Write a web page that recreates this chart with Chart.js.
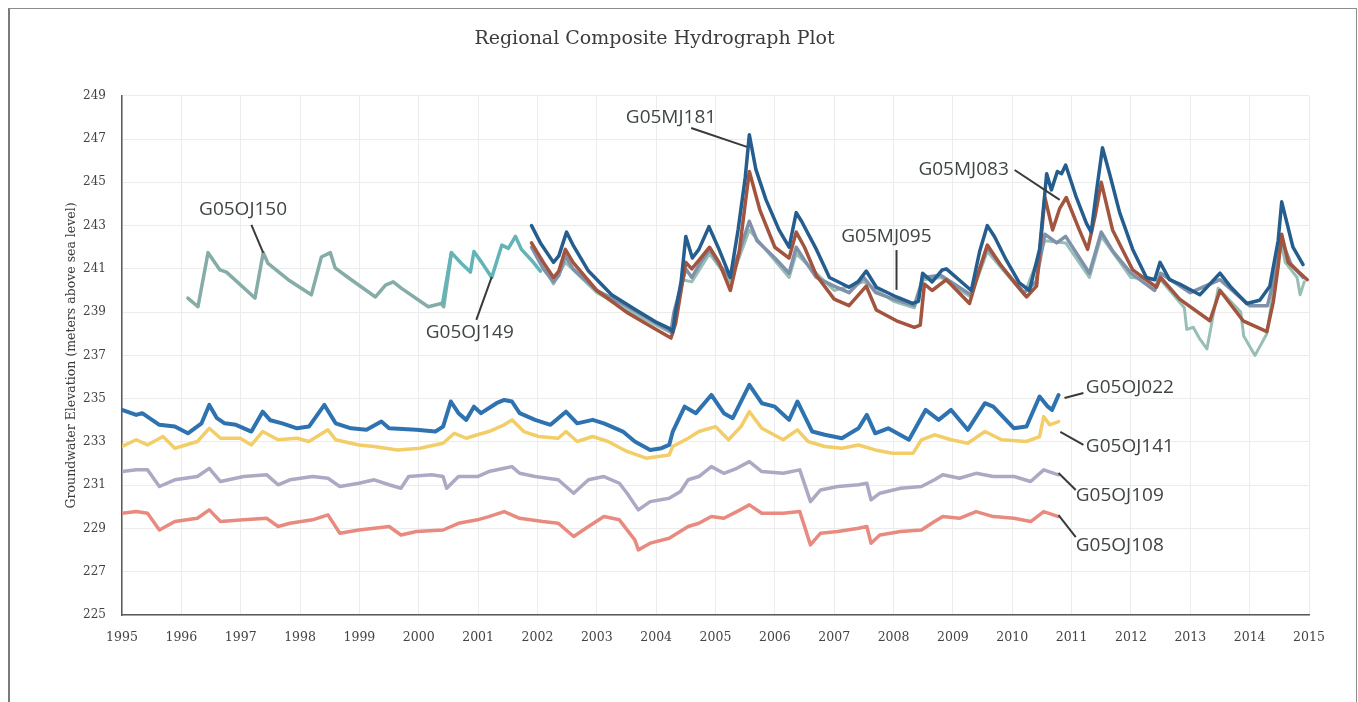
<!DOCTYPE html>
<html lang="en">
<head>
<meta charset="utf-8">
<title>Regional Composite Hydrograph Plot</title>
<script src="https://cdn.jsdelivr.net/npm/chart.js@4.4.1/dist/chart.umd.min.js"></script>
<style>
    html, body { margin: 0; padding: 0; background: #fff; }
    .page { position: relative; width: 1358px; height: 702px; overflow: hidden; background: #fff; }
    .frame { position: absolute; left: 8px; top: 8px; width: 1346px; height: 700px; border: 1px solid #8c8c8c; border-left: 2px solid #7a7a7a; }
    #hydrograph { position: absolute; left: 0; top: 0; }
</style>
</head>
<body>
<div class="page">
    <div class="frame"></div>
    <canvas id="hydrograph" width="1358" height="702"></canvas>
</div>

<script>
// ================== AXIS RANGES ==================
const yearRange = [1995, 2015];
const elevationRange = [225, 249];
const elevationStep = 2;

// ================== WELL RECORDS ==================
// each point is [decimal year, groundwater elevation (m asl)]

// upper aquifer wells
const G05MJ181 = [
    [2001.90,243.0],[2002.05,242.2],[2002.27,241.3],[2002.36,241.6],[2002.49,242.7],[2002.60,242.1],[2002.86,240.9],
    [2003.25,239.8],[2003.66,239.1],[2003.99,238.55],[2004.22,238.25],[2004.28,238.1],[2004.33,239.1],[2004.42,240.4],
    [2004.50,242.5],[2004.61,241.5],[2004.72,241.9],[2004.89,242.95],[2005.06,241.9],[2005.25,240.6],[2005.38,242.8],
    [2005.50,245.2],[2005.57,247.2],[2005.68,245.6],[2005.85,244.2],[2006.07,242.8],[2006.24,242.0],[2006.36,243.6],
    [2006.45,243.2],[2006.70,241.9],[2006.92,240.6],[2007.25,240.15],[2007.40,240.4],[2007.54,240.9],[2007.71,240.15],
    [2008.05,239.7],[2008.32,239.4],[2008.42,239.5],[2008.49,240.8],[2008.65,240.4],[2008.82,240.95],[2008.89,241.0],
    [2009.31,240.0],[2009.45,241.8],[2009.58,243.0],[2009.70,242.5],[2009.90,241.4],[2010.12,240.35],[2010.29,240.0],
    [2010.46,241.9],[2010.58,245.4],[2010.66,244.65],[2010.76,245.5],[2010.83,245.4],[2010.90,245.8],[2011.08,244.3],
    [2011.25,243.1],[2011.33,242.7],[2011.42,244.6],[2011.52,246.6],[2011.64,245.4],[2011.81,243.6],[2012.03,241.9],
    [2012.26,240.6],[2012.40,240.5],[2012.49,241.3],[2012.65,240.5],[2012.82,240.3],[2013.16,239.8],[2013.50,240.8],
    [2013.67,240.2],[2013.95,239.4],[2014.17,239.55],[2014.34,240.2],[2014.48,242.3],[2014.54,244.1],[2014.63,243.1],
    [2014.73,242.0],[2014.90,241.2]
];

const G05MJ083 = [
    [2001.90,242.2],[2002.10,241.3],[2002.27,240.6],[2002.36,240.9],[2002.47,241.9],[2002.60,241.3],[2003.00,240.0],
    [2003.50,239.0],[2004.00,238.2],[2004.25,237.8],[2004.33,238.5],[2004.42,240.0],[2004.50,241.3],[2004.60,241.0],
    [2004.75,241.5],[2004.90,242.0],[2005.06,241.3],[2005.25,240.0],[2005.40,241.8],[2005.50,244.0],[2005.57,245.5],
    [2005.75,243.7],[2006.00,242.0],[2006.24,241.5],[2006.36,242.7],[2006.50,242.0],[2006.70,240.7],[2007.00,239.6],
    [2007.25,239.3],[2007.54,240.2],[2007.71,239.1],[2008.05,238.6],[2008.35,238.3],[2008.45,238.4],[2008.52,240.3],
    [2008.65,240.0],[2008.89,240.5],[2009.28,239.4],[2009.45,241.0],[2009.58,242.1],[2009.80,241.2],[2010.00,240.5],
    [2010.24,239.7],[2010.41,240.2],[2010.55,244.3],[2010.68,242.8],[2010.80,243.8],[2010.91,244.3],[2011.13,242.8],
    [2011.27,241.9],[2011.40,243.5],[2011.50,245.0],[2011.69,242.8],[2012.03,240.95],[2012.43,240.15],[2012.50,240.6],
    [2012.82,239.6],[2013.33,238.6],[2013.50,240.0],[2013.89,238.6],[2014.29,238.1],[2014.40,239.5],[2014.48,241.1],
    [2014.54,242.6],[2014.65,241.3],[2014.97,240.5]
];

const G05MJ095 = [
    [2001.90,242.0],[2002.10,241.0],[2002.27,240.4],[2002.36,240.7],[2002.47,241.6],[2002.60,241.0],[2003.00,240.0],
    [2003.50,239.3],[2004.00,238.5],[2004.25,238.1],[2004.30,239.0],[2004.42,240.2],[2004.50,241.0],[2004.60,240.6],
    [2004.75,241.3],[2004.90,241.9],[2005.06,241.2],[2005.25,240.6],[2005.40,241.8],[2005.57,243.2],[2005.70,242.3],
    [2006.00,241.5],[2006.24,240.8],[2006.36,242.0],[2006.50,241.4],[2006.70,240.6],[2007.00,240.2],[2007.25,239.9],
    [2007.50,240.6],[2007.70,239.9],[2008.00,239.6],[2008.35,239.3],[2008.50,240.6],[2008.80,240.7],[2009.30,239.8],
    [2009.58,242.0],[2009.85,241.0],[2010.20,239.9],[2010.40,240.4],[2010.55,242.6],[2010.75,242.2],[2010.90,242.5],
    [2011.30,240.8],[2011.50,242.7],[2011.70,241.8],[2012.00,240.8],[2012.40,240.0],[2012.50,240.8],[2013.00,239.9],
    [2013.50,240.5],[2014.00,239.3],[2014.30,239.3],[2014.45,241.0],[2014.54,242.3],[2014.70,241.2],[2014.90,240.6]
];

// unlabelled upper well, drops off in 2013-2014
const upperExtra = [
    [2001.95,241.9],[2002.27,240.3],[2002.47,241.3],[2003.00,239.9],[2004.00,238.4],[2004.28,238.0],[2004.45,240.5],
    [2004.60,240.4],[2004.90,241.7],[2005.25,240.4],[2005.57,242.8],[2006.24,240.6],[2006.36,241.7],[2007.00,240.0],
    [2007.50,240.4],[2008.00,239.5],[2008.35,239.2],[2008.50,240.5],[2008.80,240.6],[2009.30,239.7],[2009.58,241.8],
    [2010.20,239.8],[2010.55,242.3],[2010.90,242.2],[2011.30,240.6],[2011.50,242.5],[2012.00,240.6],[2012.50,240.5],
    [2012.90,239.2],[2012.94,238.2],[2013.05,238.3],[2013.15,237.8],[2013.28,237.3],[2013.47,240.1],[2013.85,239.0],
    [2013.90,237.9],[2014.09,237.0],[2014.29,238.0],[2014.40,240.0],[2014.50,242.6],[2014.60,241.3],[2014.80,240.6],
    [2014.85,239.8],[2014.92,240.4]
];

const G05OJ150 = [
    [1996.11,239.65],[1996.28,239.25],[1996.45,241.75],[1996.65,240.95],[1996.76,240.85],[1997.24,239.65],[1997.38,241.75],
    [1997.46,241.25],[1997.80,240.5],[1998.19,239.8],[1998.36,241.55],[1998.51,241.75],[1998.59,241.05],[1998.81,240.6],
    [1999.27,239.7],[1999.44,240.25],[1999.57,240.4],[1999.71,240.1],[2000.16,239.25],[2000.38,239.4],[2000.42,239.25],
    [2000.55,241.75]
];

const G05OJ149 = [
    [2000.40,239.4],[2000.55,241.75],[2000.72,241.25],[2000.87,240.85],[2000.93,241.8],[2001.06,241.3],[2001.23,240.6],
    [2001.40,242.1],[2001.51,241.95],[2001.63,242.5],[2001.73,241.9],[2001.90,241.4],[2002.05,240.9]
];

// lower aquifer wells
const G05OJ022 = [
    [1995.00,234.48],[1995.24,234.25],[1995.34,234.33],[1995.63,233.79],[1995.89,233.71],[1996.11,233.40],[1996.34,233.86],
    [1996.47,234.71],[1996.60,234.10],[1996.73,233.86],[1996.92,233.79],[1997.18,233.48],[1997.37,234.40],[1997.50,234.00],
    [1997.70,233.86],[1997.95,233.63],[1998.15,233.71],[1998.41,234.71],[1998.60,233.86],[1998.86,233.63],[1999.12,233.56],
    [1999.37,233.94],[1999.50,233.63],[1999.96,233.56],[2000.28,233.48],[2000.41,233.71],[2000.54,234.87],[2000.67,234.33],
    [2000.80,234.02],[2000.93,234.63],[2001.05,234.33],[2001.31,234.79],[2001.44,234.94],[2001.57,234.87],[2001.70,234.33],
    [2001.96,234.02],[2002.22,233.79],[2002.48,234.40],[2002.67,233.86],[2002.93,234.02],[2003.12,233.86],[2003.44,233.48],
    [2003.64,233.02],[2003.90,232.63],[2004.09,232.71],[2004.22,232.86],[2004.28,233.48],[2004.48,234.63],[2004.67,234.33],
    [2004.93,235.17],[2005.14,234.33],[2005.29,234.10],[2005.57,235.64],[2005.78,234.79],[2006.00,234.63],[2006.24,234.02],
    [2006.38,234.87],[2006.63,233.48],[2006.84,233.33],[2007.13,233.17],[2007.41,233.63],[2007.55,234.25],[2007.69,233.40],
    [2007.91,233.63],[2008.26,233.10],[2008.54,234.48],[2008.76,234.02],[2008.97,234.48],[2009.25,233.56],[2009.54,234.79],
    [2009.68,234.63],[2010.03,233.63],[2010.24,233.71],[2010.46,235.10],[2010.60,234.63],[2010.67,234.48],[2010.78,235.17]
];

const G05OJ141 = [
    [1995.00,232.79],[1995.24,233.10],[1995.43,232.86],[1995.69,233.25],[1995.89,232.71],[1996.27,233.02],[1996.47,233.63],
    [1996.66,233.17],[1996.99,233.17],[1997.18,232.86],[1997.37,233.48],[1997.63,233.10],[1997.95,233.17],[1998.15,233.02],
    [1998.47,233.56],[1998.60,233.10],[1998.99,232.86],[1999.25,232.79],[1999.64,232.63],[2000.02,232.71],[2000.41,232.94],
    [2000.60,233.40],[2000.80,233.17],[2000.99,233.33],[2001.18,233.48],[2001.44,233.79],[2001.57,234.02],[2001.77,233.48],
    [2002.02,233.25],[2002.35,233.17],[2002.48,233.48],[2002.67,233.02],[2002.93,233.25],[2003.19,233.02],[2003.51,232.56],
    [2003.83,232.25],[2004.22,232.40],[2004.28,232.79],[2004.54,233.17],[2004.72,233.48],[2005.00,233.71],[2005.22,233.10],
    [2005.43,233.71],[2005.57,234.40],[2005.78,233.63],[2006.14,233.10],[2006.38,233.56],[2006.56,233.02],[2006.84,232.79],
    [2007.13,232.71],[2007.41,232.86],[2007.69,232.63],[2007.98,232.48],[2008.33,232.48],[2008.47,233.10],[2008.69,233.33],
    [2008.97,233.10],[2009.25,232.94],[2009.54,233.48],[2009.82,233.10],[2010.24,233.02],[2010.46,233.25],[2010.53,234.17],
    [2010.63,233.79],[2010.78,233.94]
];

const G05OJ109 = [
    [1995.00,231.63],[1995.24,231.71],[1995.43,231.71],[1995.63,230.94],[1995.89,231.25],[1996.27,231.40],[1996.47,231.78],
    [1996.66,231.17],[1997.05,231.40],[1997.44,231.48],[1997.63,231.02],[1997.83,231.25],[1998.21,231.40],[1998.47,231.32],
    [1998.67,230.94],[1998.99,231.09],[1999.25,231.25],[1999.50,231.02],[1999.70,230.86],[1999.83,231.40],[2000.22,231.48],
    [2000.41,231.40],[2000.47,230.86],[2000.67,231.40],[2000.99,231.40],[2001.18,231.63],[2001.44,231.78],[2001.57,231.86],
    [2001.70,231.55],[2001.96,231.40],[2002.35,231.25],[2002.61,230.63],[2002.86,231.25],[2003.12,231.40],[2003.38,231.09],
    [2003.51,230.63],[2003.70,229.86],[2003.90,230.24],[2004.22,230.40],[2004.41,230.71],[2004.54,231.25],[2004.72,231.40],
    [2004.93,231.86],[2005.14,231.55],[2005.36,231.78],[2005.57,232.09],[2005.78,231.63],[2006.14,231.55],[2006.42,231.71],
    [2006.60,230.24],[2006.77,230.78],[2007.06,230.94],[2007.41,231.02],[2007.55,231.09],[2007.62,230.32],[2007.77,230.63],
    [2008.12,230.86],[2008.47,230.94],[2008.69,231.25],[2008.83,231.48],[2009.11,231.32],[2009.39,231.55],[2009.68,231.40],
    [2010.03,231.40],[2010.31,231.17],[2010.53,231.71],[2010.78,231.48]
];

const G05OJ108 = [
    [1995.00,229.70],[1995.24,229.78],[1995.43,229.70],[1995.63,228.93],[1995.89,229.32],[1996.27,229.47],[1996.47,229.86],
    [1996.66,229.32],[1997.05,229.40],[1997.44,229.47],[1997.63,229.09],[1997.83,229.24],[1998.21,229.40],[1998.47,229.63],
    [1998.67,228.78],[1998.99,228.93],[1999.25,229.01],[1999.50,229.09],[1999.70,228.70],[1999.96,228.86],[2000.41,228.93],
    [2000.67,229.24],[2000.99,229.40],[2001.18,229.55],[2001.44,229.78],[2001.70,229.47],[2002.09,229.32],[2002.35,229.24],
    [2002.61,228.63],[2002.86,229.09],[2003.12,229.55],[2003.38,229.40],[2003.64,228.47],[2003.70,228.01],[2003.90,228.32],
    [2004.22,228.55],[2004.54,229.09],[2004.72,229.24],[2004.93,229.55],[2005.14,229.47],[2005.36,229.78],[2005.57,230.09],
    [2005.78,229.70],[2006.14,229.70],[2006.42,229.78],[2006.60,228.24],[2006.77,228.78],[2007.06,228.86],[2007.41,229.01],
    [2007.55,229.09],[2007.62,228.32],[2007.77,228.70],[2008.12,228.86],[2008.47,228.93],[2008.69,229.32],[2008.83,229.55],
    [2009.11,229.47],[2009.39,229.78],[2009.68,229.55],[2010.03,229.47],[2010.31,229.32],[2010.53,229.78],[2010.78,229.55]
];

// ================== SERIES STYLE ==================
// listed top-most first
const wells = [
    { label: 'G05MJ181', points: G05MJ181, color: '#255d8e', width: 3.5 },
    { label: 'G05MJ083', points: G05MJ083, color: '#a2543e', width: 3.5 },
    { label: 'G05MJ095', points: G05MJ095, color: '#7f92aa', width: 3.5 },
    { label: '', points: upperExtra, color: '#98bfb6', width: 3 },
    { label: 'G05OJ149', points: G05OJ149, color: '#62b4b6', width: 3.5 },
    { label: 'G05OJ150', points: G05OJ150, color: '#86aca8', width: 3.5 },
    { label: 'G05OJ022', points: G05OJ022, color: '#2e72b0', width: 4 },
    { label: 'G05OJ141', points: G05OJ141, color: '#f2cd68', width: 3.5 },
    { label: 'G05OJ109', points: G05OJ109, color: '#aba9c3', width: 3.5 },
    { label: 'G05OJ108', points: G05OJ108, color: '#e98a80', width: 3.5 }
];

// ================== CALLOUT LABELS ==================
// text anchor and leader line, in [year, elevation]
const callouts = [
    { text: 'G05OJ150', at: [1997.04, 243.72], align: 'center', leader: [[1997.18, 243.03], [1997.38, 241.74]] },
    { text: 'G05OJ149', at: [2000.86, 238.04], align: 'center', leader: [[2000.97, 238.64], [2001.23, 240.63]] },
    { text: 'G05MJ181', at: [2004.25, 247.98], align: 'center', leader: [[2004.59, 247.51], [2005.53, 246.64]] },
    { text: 'G05MJ095', at: [2007.88, 242.48], align: 'center', leader: [[2008.05, 241.87], [2008.05, 240.03]] },
    { text: 'G05MJ083', at: [2009.18, 245.57], align: 'center', leader: [[2010.04, 245.57], [2010.80, 244.19]] },
    { text: 'G05OJ022', at: [2011.24, 235.50], align: 'left', leader: [[2010.88, 235.03], [2011.20, 235.26]] },
    { text: 'G05OJ141', at: [2011.24, 232.77], align: 'left', leader: [[2010.81, 233.46], [2011.20, 232.86]] },
    { text: 'G05OJ109', at: [2011.07, 230.50], align: 'left', leader: [[2010.78, 231.56], [2011.07, 230.78]] },
    { text: 'G05OJ108', at: [2011.07, 228.19], align: 'left', leader: [[2010.78, 229.62], [2011.07, 228.60]] }
];

// ================== PLUGINS ==================
const calloutPlugin = {
    id: 'callouts',
    afterDatasetsDraw(chart) {
        const { ctx, scales: { x, y } } = chart;
        ctx.save();
        ctx.strokeStyle = '#3a3a3a';
        ctx.lineWidth = 2;
        ctx.fillStyle = '#3f4542';
        ctx.font = '19px "Open Sans", sans-serif';
        ctx.textBaseline = 'middle';
        callouts.forEach(c => {
            const [a, b] = c.leader;
            ctx.beginPath();
            ctx.moveTo(x.getPixelForValue(a[0]), y.getPixelForValue(a[1]));
            ctx.lineTo(x.getPixelForValue(b[0]), y.getPixelForValue(b[1]));
            ctx.stroke();
            ctx.textAlign = c.align;
            ctx.fillText(c.text, x.getPixelForValue(c.at[0]), y.getPixelForValue(c.at[1]));
        });
        ctx.restore();
    }
};

// ================== CHART ==================
const serifFont = '"DejaVu Serif", "Liberation Serif", serif';

function buildDatasets() {
    return wells.map(w => ({
        label: w.label,
        data: w.points.map(([year, level]) => ({ x: year, y: level })),
        borderColor: w.color,
        backgroundColor: w.color,
        borderWidth: w.width,
        pointRadius: 0,
        tension: 0,
        borderJoinStyle: 'round',
        borderCapStyle: 'round'
    }));
}

const ctx = document.getElementById('hydrograph').getContext('2d');
new Chart(ctx, {
    type: 'line',
    data: { datasets: buildDatasets() },
    options: {
        responsive: false,
        animation: false,
        layout: { padding: { top: 0, left: 0, right: 49, bottom: 0 } },
        plugins: {
            legend: { display: false },
            tooltip: { enabled: false },
            title: {
                display: true,
                text: 'Regional Composite Hydrograph Plot',
                color: '#3c3c3c',
                font: { family: serifFont, size: 19, weight: 'normal' },
                padding: { top: 28, bottom: 45 }
            }
        },
        scales: {
            x: {
                type: 'linear',
                min: yearRange[0],
                max: yearRange[1],
                ticks: {
                    stepSize: 1,
                    padding: 15,
                    color: '#444',
                    font: { family: serifFont, size: 12.5 },
                    callback: v => String(v)
                },
                grid: { color: '#ececec', drawTicks: false },
                border: { color: '#5a5a5a', width: 1.5 },
                afterFit: scale => { scale.height = 87; }
            },
            y: {
                type: 'linear',
                min: elevationRange[0],
                max: elevationRange[1],
                ticks: {
                    stepSize: elevationStep,
                    padding: 16,
                    color: '#444',
                    font: { family: serifFont, size: 12 }
                },
                grid: { color: '#ececec', drawTicks: false },
                border: { color: '#5a5a5a', width: 1.5 },
                title: {
                    display: true,
                    text: 'Groundwater Elevation (meters above sea level)',
                    color: '#3c3c3c',
                    font: { family: serifFont, size: 12.5 },
                    padding: { top: 64, bottom: 0 }
                },
                afterFit: scale => { scale.width = 122; }
            }
        }
    },
    plugins: [calloutPlugin]
});
</script>
</body>
</html>
